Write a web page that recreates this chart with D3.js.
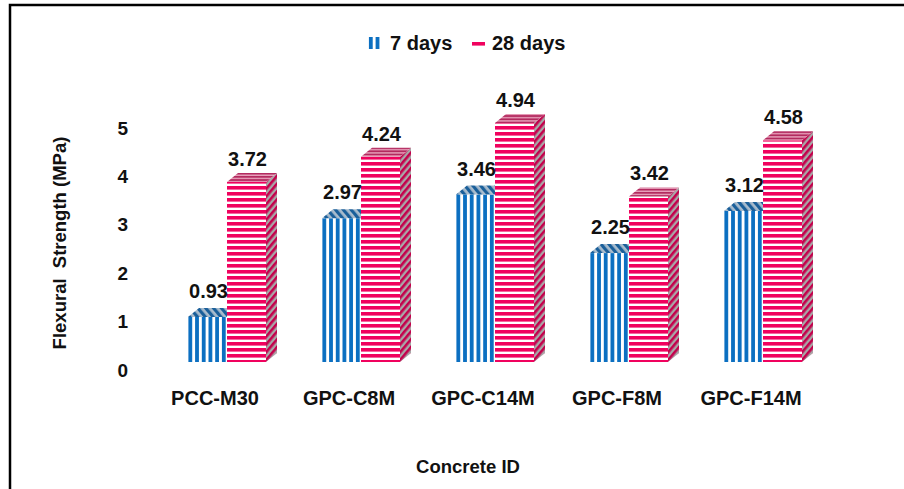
<!DOCTYPE html>
<html>
<head>
<meta charset="utf-8">
<script src="https://cdn.jsdelivr.net/npm/d3@7/dist/d3.min.js"></script>
<style>
  html, body { margin: 0; padding: 0; background: #fff; }
  svg { display: block; font-family: "Liberation Sans", Arial, sans-serif; font-weight: bold; }
</style>
</head>
<body>
<svg id="chart" width="904" height="489"></svg>
<script>
// Flexural strength of concrete mixes at 7 and 28 days
const categories = ["PCC-M30", "GPC-C8M", "GPC-C14M", "GPC-F8M", "GPC-F14M"];
const seriesNames = ["7 days", "28 days"];
const days7 = [0.93, 2.97, 3.46, 2.25, 3.12];
const days28 = [3.72, 4.24, 4.94, 3.42, 4.58];
const yTicks = [0, 1, 2, 3, 4, 5];

const svg = d3.select("#chart");
const W = 904, H = 489;

// Outer frame (top and left edges)
svg.append("path")
  .attr("d", `M10,${H} L10,5 L${W},5`)
  .attr("fill", "none").attr("stroke", "#000").attr("stroke-width", 2.5);

// Stripe patterns for the 3-D faces
const defs = svg.append("defs");
function stripes(id, w, h, bg, fg, rect, rotate, ox) {
  const p = defs.append("pattern").attr("id", id)
    .attr("patternUnits", "userSpaceOnUse").attr("width", w).attr("height", h)
    .attr("x", ox || 0);
  if (rotate) p.attr("patternTransform", `rotate(${rotate})`);
  p.append("rect").attr("width", w).attr("height", h).attr("fill", bg);
  p.append("rect").attr("x", rect[0]).attr("y", rect[1]).attr("width", rect[2]).attr("height", rect[3]).attr("fill", fg);
}
const blue = "#0B6FC1", pink = "#F0025E";
stripes("blueFront", 6.7, 6, "#fff", blue, [0, 0, 3.8, 6], 0, 188);
stripes("blueTop", 6, 6, "#a9bccd", "#1a5f9a", [0, 0, 3.2, 6], -40);
stripes("pinkFront", 6, 6, "#fff", pink, [0, 0, 6, 3.6]);
stripes("pinkTop", 6, 3.2, "#e9a3bd", "#b32a5f", [0, 0, 6, 1.8]);
stripes("pinkSide", 5, 5, "#a8a8a8", "#c4004c", [0, 0, 2.6, 5], 40);

const fills = {
  "7 days": { front: "url(#blueFront)", top: "url(#blueTop)", side: "url(#blueTop)" },
  "28 days": { front: "url(#pinkFront)", top: "url(#pinkTop)", side: "url(#pinkSide)" }
};

// Scales
const baseY = 362;
const y = d3.scaleLinear().domain([0, 5]).range([baseY, baseY - 5 * 48.4]);
const x0 = d3.scaleBand().domain(categories).range([188, 802]).paddingInner(56 / 134).paddingOuter(0);
const x1 = d3.scaleBand().domain(seriesNames).range([0, x0.bandwidth()]);
const dx = 11, dy = 9; // depth of the 3-D bars

// Y tick labels
svg.append("g").selectAll("text").data(yTicks).join("text")
  .attr("x", 128).attr("y", d => y(d) + 8)
  .attr("dy", "0.35em").attr("text-anchor", "end")
  .attr("font-size", 19).attr("fill", "#111")
  .text(d => d);

// Bars
const rows = categories.map((c, i) => ({ cat: c, vals: [
  { s: "7 days", v: days7[i] }, { s: "28 days", v: days28[i] }
]}));

const groups = svg.append("g").selectAll("g").data(rows).join("g")
  .attr("transform", d => `translate(${x0(d.cat)},0)`);

groups.each(function(row) {
  const g = d3.select(this);
  row.vals.forEach(d => {
    const bx = x1(d.s), bw = x1.bandwidth(), ty = y(d.v);
    const f = fills[d.s];
    // side face
    g.append("polygon")
      .attr("points", [[bx + bw, ty], [bx + bw + dx, ty - dy], [bx + bw + dx, baseY - dy], [bx + bw, baseY]].join(" "))
      .attr("fill", f.side);
    // front face
    g.append("rect").attr("x", bx).attr("y", ty).attr("width", bw).attr("height", baseY - ty)
      .attr("fill", f.front);
    // top face
    g.append("polygon")
      .attr("points", [[bx, ty], [bx + dx, ty - dy], [bx + bw + dx, ty - dy], [bx + bw, ty]].join(" "))
      .attr("fill", f.top);
  });
});

// Value labels
groups.each(function(row) {
  const g = d3.select(this);
  row.vals.forEach(d => {
    g.append("text")
      .attr("x", x1(d.s) + x1.bandwidth() / 2 + 1)
      .attr("y", y(d.v) - dy - (d.s === "7 days" ? 10 : 7))
      .attr("text-anchor", "middle").attr("font-size", 20).attr("fill", "#111")
      .text(d.v.toFixed(2));
  });
});

// Category labels
svg.append("g").selectAll("text").data(categories).join("text")
  .attr("x", d => x0(d) + 27).attr("y", 405)
  .attr("text-anchor", "middle").attr("font-size", 20).attr("fill", "#111")
  .text(d => d);

// Axis titles
svg.append("text")
  .attr("transform", "translate(66,243) rotate(-90)")
  .attr("text-anchor", "middle").attr("font-size", 18.5).attr("fill", "#111")
  .style("white-space", "pre")
  .text("Flexural  Strength (MPa)");

svg.append("text")
  .attr("x", 468).attr("y", 473)
  .attr("text-anchor", "middle").attr("font-size", 18.5).attr("fill", "#111")
  .text("Concrete ID");

// Legend
const legend = svg.append("g");
legend.append("rect").attr("x", 368).attr("y", 37).attr("width", 14).attr("height", 12).attr("fill", "url(#blueFront)");
legend.append("text").attr("x", 390).attr("y", 50).attr("font-size", 20).attr("fill", "#111").text(seriesNames[0]);
legend.append("rect").attr("x", 472).attr("y", 40).attr("width", 13).attr("height", 8).attr("fill", "url(#pinkFront)");
legend.append("text").attr("x", 492).attr("y", 50).attr("font-size", 20).attr("fill", "#111").text(seriesNames[1]);
</script>
</body>
</html>
